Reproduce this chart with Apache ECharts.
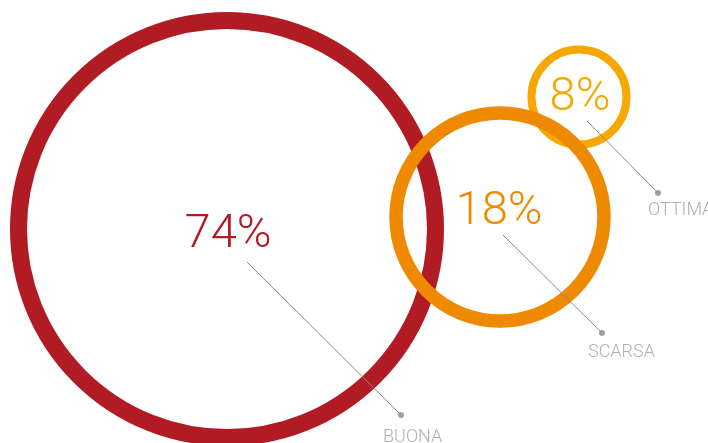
<!DOCTYPE html>
<html>
<head>
<meta charset="utf-8">
<script src="https://cdn.jsdelivr.net/npm/echarts@6/dist/echarts.min.js"></script>
<style>
html,body{margin:0;padding:0;background:#fff;}
#chart{width:708px;height:443px;}
</style>
</head>
<body>
<div id="chart"></div>
<script>
// ---- data ----
const categories = ['BUONA', 'SCARSA', 'OTTIMA'];
const values = [74, 18, 8];

// ---- layout & style (not data) ----
const colors = ['#B01B24', '#EF8A00', '#F6A800'];
const centers = [[227, 229], [500, 217], [579, 97]];
const ringSize = [417, 208, 95];
const ringWidth = [17, 13.5, 8];
const ringZ = [2, 4, 3];
const pctOffset = [[1, 6], [-1, -5], [1, 1]];
const leaderFrom = [[20, 33], [3, 18], [8, 24]];
const leaderTo = [[174, 186], [102, 116], [79, 96]];
const labelOffset = [[-18, 22], [-14, 19], [-10, 17]];
const FONT = 'Roboto, "Open Sans", sans-serif';

const series = [];
categories.forEach((name, i) => {
  const c = centers[i];
  series.push({
    type: 'scatter',
    name: name,
    z: ringZ[i],
    silent: true,
    symbol: 'circle',
    symbolSize: ringSize[i],
    itemStyle: { color: 'rgba(0,0,0,0)', borderColor: colors[i], borderWidth: ringWidth[i], opacity: 1 },
    label: {
      show: true,
      position: 'inside',
      offset: pctOffset[i],
      formatter: () => values[i] + '%',
      color: colors[i],
      fontFamily: FONT,
      fontWeight: 300,
      fontSize: 47
    },
    emphasis: { disabled: true },
    data: [[c[0], c[1], values[i]]]
  });
});

const lineData = categories.map((name, i) => {
  const c = centers[i];
  return { coords: [[c[0] + leaderFrom[i][0], c[1] + leaderFrom[i][1]], [c[0] + leaderTo[i][0], c[1] + leaderTo[i][1]]] };
});
series.push({
  type: 'lines',
  coordinateSystem: 'cartesian2d',
  z: 10,
  silent: true,
  lineStyle: { color: '#8a8a8a', width: 1, opacity: 1 },
  data: lineData
});

const dotData = categories.map((name, i) => {
  const c = centers[i];
  return {
    name: name,
    value: [c[0] + leaderTo[i][0], c[1] + leaderTo[i][1]],
    label: { position: [labelOffset[i][0] + 3, labelOffset[i][1] + 3] }
  };
});
series.push({
  type: 'scatter',
  z: 11,
  silent: true,
  symbol: 'circle',
  symbolSize: 6,
  itemStyle: { color: '#8a8a8a' },
  label: {
    show: true,
    formatter: '{b}',
    align: 'left',
    verticalAlign: 'middle',
    color: '#9b9b9b',
    fontFamily: FONT,
    fontWeight: 300,
    fontSize: 18
  },
  emphasis: { disabled: true },
  data: dotData
});

const chart = echarts.init(document.getElementById('chart'), null, { renderer: 'canvas' });
chart.setOption({
  animation: false,
  backgroundColor: '#ffffff',
  grid: { left: 0, right: 0, top: 0, bottom: 0 },
  xAxis: { type: 'value', min: 0, max: 708, show: false },
  yAxis: { type: 'value', min: 0, max: 443, inverse: true, show: false },
  series: series
});
</script>
</body>
</html>
